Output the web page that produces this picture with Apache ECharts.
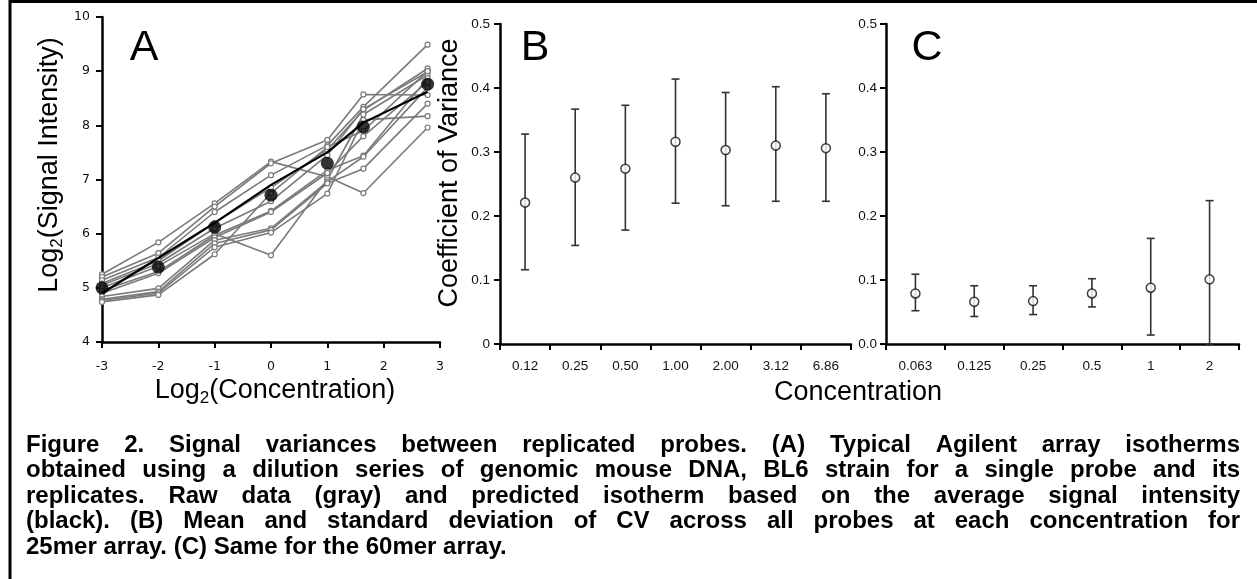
<!DOCTYPE html>
<html>
<head>
<meta charset="utf-8">
<script src="https://cdn.jsdelivr.net/npm/echarts@6/dist/echarts.min.js"></script>
<style>
  html, body { margin: 0; padding: 0; background: #fff; }
  #chart { width: 1257px; height: 579px; }
</style>
</head>
<body>
<div id="chart"></div>
<script>
// ---- Panel A: isotherms of one probe and its replicates ----
const log2Conc = [-3, -2, -1, 0, 1, 1.64, 2.78];
const replicate01 = [5.25, 5.84, 6.56, 7.33, 7.05, 6.75, 7.96];
const replicate02 = [5.20, 5.64, 6.50, 7.30, 7.73, 8.57, 8.56];
const replicate03 = [5.14, 5.56, 6.40, 7.08, 7.63, 8.34, 9.49];
const replicate04 = [5.08, 5.50, 6.20, 6.85, 7.55, 8.28, 9.05];
const replicate05 = [5.05, 5.45, 6.10, 6.60, 7.45, 8.30, 8.99];
const replicate06 = [5.00, 5.40, 6.00, 5.60, 7.00, 8.20, 8.93];
const replicate07 = [4.95, 5.30, 5.97, 6.42, 7.17, 7.44, 8.87];
const replicate08 = [4.90, 5.27, 5.93, 6.40, 7.12, 7.80, 8.80];
const replicate09 = [4.84, 4.99, 5.88, 6.10, 6.96, 7.42, 8.70];
const replicate10 = [4.79, 4.93, 5.82, 6.07, 6.93, 7.20, 8.40];
const replicate11 = [4.77, 4.90, 5.75, 6.02, 6.74, 8.10, 8.17];
const replicate12 = [4.74, 4.87, 5.62, 6.75, 7.60, 7.90, 9.00];
const replicates = [replicate01, replicate02, replicate03, replicate04, replicate05, replicate06,
                    replicate07, replicate08, replicate09, replicate10, replicate11, replicate12];
const meanSignal = [5.00, 5.38, 6.12, 6.71, 7.30, 7.97, 8.76];
const isotherm = [4.90, 5.55, 6.20, 6.90, 7.50, 8.05, 8.62];

// ---- Panel B: CV of the 25mer array ----
const concB = ['0.12', '0.25', '0.50', '1.00', '2.00', '3.12', '6.86'];
const cvMeanB = [0.221, 0.260, 0.274, 0.316, 0.303, 0.310, 0.306];
const cvHighB = [0.328, 0.367, 0.373, 0.414, 0.393, 0.402, 0.391];
const cvLowB  = [0.116, 0.154, 0.178, 0.220, 0.216, 0.223, 0.223];

// ---- Panel C: CV of the 60mer array ----
const concC = ['0.063', '0.125', '0.25', '0.5', '1', '2'];
const cvMeanC = [0.079, 0.066, 0.067, 0.079, 0.088, 0.101];
const cvHighC = [0.109, 0.091, 0.091, 0.102, 0.165, 0.224];
const cvLowC  = [0.052, 0.043, 0.046, 0.058, 0.014, 0.000];

const captionLines = [
  'Figure 2. Signal variances between replicated probes. (A) Typical Agilent array isotherms',
  'obtained using a dilution series of genomic mouse DNA, BL6 strain for a single probe and its',
  'replicates. Raw data (gray) and predicted isotherm based on the average signal intensity',
  '(black). (B) Mean and standard deviation of CV across all probes at each concentration for',
  '25mer array. (C) Same for the 60mer array.'
];

const SANS = '"Liberation Sans", Arial, sans-serif';
const VERD = '"DejaVu Sans", Verdana, sans-serif';

const chart = echarts.init(document.getElementById('chart'), null, { renderer: 'canvas' });

function axisLine() { return { show: true, onZero: false, lineStyle: { color: '#000', width: 2.5 } }; }
function axisTick(len) { return { show: true, length: len, lineStyle: { color: '#000', width: 2 } }; }

function errorBar(params, api) {
  const i = api.value(0);
  const hi = api.coord([i, api.value(1)]);
  const lo = api.coord([i, api.value(2)]);
  const w = 4;
  const style = { stroke: '#333', lineWidth: 1.6 };
  return {
    type: 'group',
    children: [
      { type: 'line', shape: { x1: hi[0], y1: hi[1], x2: lo[0], y2: lo[1] }, style },
      { type: 'line', shape: { x1: hi[0] - w, y1: hi[1], x2: hi[0] + w, y2: hi[1] }, style },
      { type: 'line', shape: { x1: lo[0] - w, y1: lo[1], x2: lo[0] + w, y2: lo[1] }, style }
    ]
  };
}

const series = [];
replicates.forEach((r, k) => {
  series.push({
    type: 'line', xAxisIndex: 0, yAxisIndex: 0, name: 'replicate ' + (k + 1),
    data: log2Conc.map((x, i) => [x, r[i]]),
    symbol: 'circle', symbolSize: 5, showAllSymbol: true,
    lineStyle: { color: '#7a7a7a', width: 1.6 },
    itemStyle: { color: '#fff', borderColor: '#7a7a7a', borderWidth: 1.2 },
    z: 2, silent: true, animation: false
  });
});
series.push({
  type: 'line', xAxisIndex: 0, yAxisIndex: 0, name: 'isotherm',
  data: log2Conc.map((x, i) => [x, isotherm[i]]),
  symbol: 'none', lineStyle: { color: '#000', width: 2.2 }, z: 3, animation: false
});
series.push({
  type: 'scatter', xAxisIndex: 0, yAxisIndex: 0, name: 'mean',
  data: log2Conc.map((x, i) => [x, meanSignal[i]]),
  symbolSize: 13, itemStyle: { color: '#000' }, z: 4, animation: false
});
series.push({
  type: 'custom', xAxisIndex: 1, yAxisIndex: 1, renderItem: errorBar,
  data: concB.map((c, i) => [i, cvHighB[i], cvLowB[i]]), z: 2, animation: false
});
series.push({
  type: 'scatter', xAxisIndex: 1, yAxisIndex: 1,
  data: concB.map((c, i) => [i, cvMeanB[i]]), symbolSize: 9,
  itemStyle: { color: '#fff', borderColor: '#111', borderWidth: 1.5 }, z: 3, animation: false
});
series.push({
  type: 'custom', xAxisIndex: 2, yAxisIndex: 2, renderItem: errorBar,
  data: concC.map((c, i) => [i, cvHighC[i], cvLowC[i]]), z: 2, animation: false
});
series.push({
  type: 'scatter', xAxisIndex: 2, yAxisIndex: 2,
  data: concC.map((c, i) => [i, cvMeanC[i]]), symbolSize: 9,
  itemStyle: { color: '#fff', borderColor: '#111', borderWidth: 1.5 }, z: 3, animation: false
});

// Caption, justified word by word like a printed figure legend
const capFont = 'bold 24px "Liberation Sans"';
const measure = document.createElement('canvas').getContext('2d');
measure.font = capFont;
const capLeft = 26, capRight = 1240, capTop = 445, capStep = 25.5;
const graphics = [];
captionLines.forEach((line, li) => {
  const words = line.split(' ');
  const widths = words.map(w => measure.measureText(w).width);
  const total = widths.reduce((a, b) => a + b, 0);
  const last = li === captionLines.length - 1;
  const gap = last ? measure.measureText(' ').width : (capRight - capLeft - total) / (words.length - 1);
  let x = capLeft;
  words.forEach((w, i) => {
    graphics.push({
      type: 'text', x: x, y: capTop + li * capStep,
      style: { text: w, font: capFont, fill: '#000', verticalAlign: 'middle', align: 'left' }
    });
    x += widths[i] + gap;
  });
});

const titleRich = {
  n: { fontSize: 27, fontFamily: SANS, color: '#000', lineHeight: 32 },
  s: { fontSize: 17, fontFamily: SANS, color: '#000', lineHeight: 12, verticalAlign: 'bottom' }
};

graphics.push(
  // frame
  { type: 'line', shape: { x1: 10, y1: 1.5, x2: 1257, y2: 1.5 }, style: { stroke: '#000', lineWidth: 3 } },
  { type: 'line', shape: { x1: 10, y1: 0, x2: 10, y2: 579 }, style: { stroke: '#000', lineWidth: 3 } },
  // panel letters
  { type: 'text', x: 144, y: 48, style: { text: 'A', font: '43px ' + SANS, fill: '#000', align: 'center', verticalAlign: 'middle' } },
  { type: 'text', x: 535, y: 48, style: { text: 'B', font: '43px ' + SANS, fill: '#000', align: 'center', verticalAlign: 'middle' } },
  { type: 'text', x: 927, y: 48, style: { text: 'C', font: '43px ' + SANS, fill: '#000', align: 'center', verticalAlign: 'middle' } },
  // axis titles
  { type: 'text', x: 50, y: 165, rotation: Math.PI / 2,
    style: { text: '{n|Log}{s|2}{n|(Signal Intensity)}', rich: titleRich, align: 'center', verticalAlign: 'middle' } },
  { type: 'text', x: 275, y: 391,
    style: { text: '{n|Log}{s|2}{n|(Concentration)}', rich: titleRich, align: 'center', verticalAlign: 'middle' } },
  { type: 'text', x: 450, y: 173, rotation: Math.PI / 2,
    style: { text: 'Coefficient of Variance', font: '27px ' + SANS, fill: '#000', align: 'center', verticalAlign: 'middle' } },
  { type: 'text', x: 858, y: 393,
    style: { text: 'Concentration', font: '27px ' + SANS, fill: '#000', align: 'center', verticalAlign: 'middle' } }
);

chart.setOption({
  animation: false,
  backgroundColor: '#fff',
  grid: [
    { left: 102, top: 17, width: 338, height: 325 },
    { left: 500, top: 24, width: 351, height: 320 },
    { left: 886, top: 24, width: 353, height: 320 }
  ],
  xAxis: [
    { type: 'value', gridIndex: 0, min: -3, max: 3, interval: 1,
      axisLine: axisLine(), axisTick: axisTick(6), splitLine: { show: false },
      axisLabel: { fontFamily: VERD, fontSize: 12.5, color: '#111', margin: 18 } },
    { type: 'category', gridIndex: 1, data: concB, boundaryGap: true,
      axisLine: axisLine(), axisTick: axisTick(6), splitLine: { show: false },
      axisLabel: { fontFamily: SANS, fontSize: 13.5, color: '#111', margin: 15 } },
    { type: 'category', gridIndex: 2, data: concC, boundaryGap: true,
      axisLine: axisLine(), axisTick: axisTick(6), splitLine: { show: false },
      axisLabel: { fontFamily: SANS, fontSize: 13.5, color: '#111', margin: 15 } }
  ],
  yAxis: [
    { type: 'value', gridIndex: 0, min: 4, max: 10, interval: 1,
      axisLine: axisLine(), axisTick: axisTick(6), splitLine: { show: false },
      axisLabel: { fontFamily: VERD, fontSize: 12.5, color: '#111', margin: 12 } },
    { type: 'value', gridIndex: 1, min: 0, max: 0.5, interval: 0.1,
      axisLine: axisLine(), axisTick: axisTick(6), splitLine: { show: false },
      axisLabel: { fontFamily: SANS, fontSize: 13.5, color: '#111', margin: 10 } },
    { type: 'value', gridIndex: 2, min: 0, max: 0.5, interval: 0.1,
      axisLine: axisLine(), axisTick: axisTick(6), splitLine: { show: false },
      axisLabel: { fontFamily: SANS, fontSize: 13.5, color: '#111', margin: 9,
                   formatter: v => v.toFixed(1) } }
  ],
  series: series,
  graphic: graphics
});
</script>
</body>
</html>
